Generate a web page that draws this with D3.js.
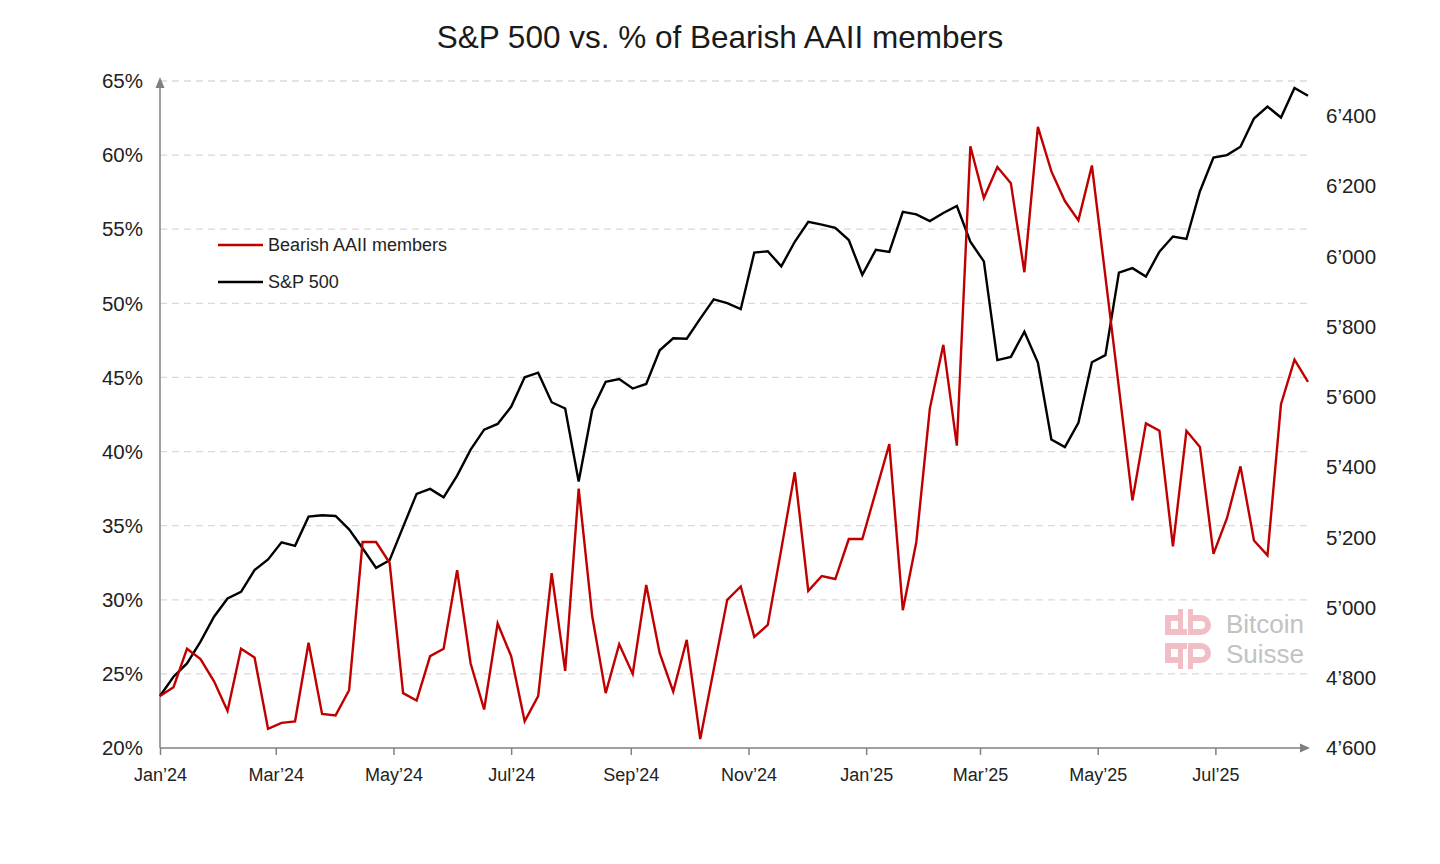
<!DOCTYPE html>
<html>
<head>
<meta charset="utf-8">
<script src="https://cdn.jsdelivr.net/npm/d3@7"></script>
<style>
  body { margin: 0; background: #fff; }
  svg text { font-family: "Liberation Sans", Arial, sans-serif; }
</style>
</head>
<body>
<div id="chart"></div>
<script>
// weekly observations, first one on Jan 1 2024
const startDate = new Date(2024, 0, 1);

const bearish = [
  23.5, 24.1, 26.7, 26.0, 24.5, 22.5, 26.7, 26.1, 21.3, 21.7,
  21.8, 27.1, 22.3, 22.2, 23.9, 33.9, 33.9, 32.5, 23.7, 23.2,
  26.2, 26.7, 32.0, 25.7, 22.6, 28.4, 26.2, 21.8, 23.5, 31.8,
  25.2, 37.5, 28.9, 23.7, 27.0, 25.0, 31.0, 26.4, 23.8, 27.3,
  20.6, 25.3, 30.0, 30.9, 27.5, 28.3, 33.4, 38.6, 30.6, 31.6,
  31.4, 34.1, 34.1, 37.3, 40.5, 29.3, 33.9, 42.9, 47.2, 40.4,
  60.6, 57.1, 59.2, 58.1, 52.1, 61.9, 58.9, 56.9, 55.6, 59.3,
  51.8, 44.3, 36.7, 41.9, 41.4, 33.6, 41.4, 40.3, 33.1, 35.5,
  39.0, 34.0, 33.0, 43.2, 46.2, 44.7
];

const spx = [
  4748, 4803, 4841, 4903, 4974, 5026, 5045, 5107, 5137, 5186,
  5176, 5259, 5263, 5261, 5223, 5169, 5113, 5135, 5230, 5324,
  5338, 5314, 5376, 5450, 5507, 5523, 5572, 5656, 5669, 5585,
  5567, 5359, 5563, 5643, 5651, 5624, 5637, 5733, 5767, 5766,
  5823, 5878, 5867, 5850, 6011, 6015, 5972, 6042, 6099, 6091,
  6082, 6047, 5948, 6019, 6013, 6127, 6120, 6101, 6124, 6144,
  6042, 5986, 5705, 5714, 5786, 5698, 5479, 5457, 5526, 5699,
  5719, 5954, 5967, 5943, 6014, 6057, 6050, 6186, 6282, 6289,
  6313, 6393, 6427, 6396, 6480, 6458
];

const pctTicks = [20, 25, 30, 35, 40, 45, 50, 55, 60, 65];
const spxTicks = [4600, 4800, 5000, 5200, 5400, 5600, 5800, 6000, 6200, 6400];

const seriesNames = ["Bearish AAII members", "S&P 500"];
const seriesColors = ["#c00000", "#000000"];

const dates = bearish.map((d, i) => d3.timeDay.offset(startDate, 7 * i));

const W = 1440, H = 864;
const plotL = 160, plotR = 1308, plotT = 81, plotB = 748;

const svg = d3.select("#chart").append("svg")
  .attr("width", W).attr("height", H);

svg.append("text")
  .attr("x", 720).attr("y", 48)
  .attr("text-anchor", "middle")
  .attr("font-size", 31.5)
  .attr("fill", "#1a1a1a")
  .text("S&P 500 vs. % of Bearish AAII members");

const x = d3.scaleTime()
  .domain([dates[0], dates[dates.length - 1]])
  .range([plotL, plotR]);
const yL = d3.scaleLinear().domain([20, 65]).range([plotB, plotT]);
const yR = d3.scaleLinear().domain([4600, 6500]).range([plotB, plotT]);

// gridlines
svg.append("g").selectAll("line")
  .data(pctTicks.slice(1))
  .enter().append("line")
  .attr("x1", plotL).attr("x2", plotR)
  .attr("y1", d => yL(d)).attr("y2", d => yL(d))
  .attr("stroke", "#d9d9d9")
  .attr("stroke-width", 1.3)
  .attr("stroke-dasharray", "7,5");

// left labels
svg.append("g").selectAll("text")
  .data(pctTicks)
  .enter().append("text")
  .attr("x", 143).attr("y", d => yL(d))
  .attr("dy", "0.35em")
  .attr("text-anchor", "end")
  .attr("font-size", 20.5)
  .attr("fill", "#222")
  .text(d => d + "%");

// right labels
const fmt = d3.formatLocale({decimal: ".", thousands: "\u2019", grouping: [3], currency: ["", ""]}).format(",");
svg.append("g").selectAll("text")
  .data(spxTicks)
  .enter().append("text")
  .attr("x", 1326).attr("y", d => yR(d))
  .attr("dy", "0.35em")
  .attr("font-size", 20.5)
  .attr("fill", "#222")
  .text(d => fmt(d));

// x axis
const monthTicks = d3.timeMonth.every(2).range(new Date(2024, 0, 1), new Date(2025, 7, 2));
const xAxis = svg.append("g")
  .attr("transform", "translate(0," + plotB + ")")
  .call(d3.axisBottom(x)
    .tickValues(monthTicks)
    .tickSize(7)
    .tickFormat(d3.timeFormat("%b\u2019%y")));
xAxis.select(".domain").remove();
xAxis.selectAll(".tick line").attr("stroke", "#808080").attr("stroke-width", 1.5);
xAxis.selectAll(".tick text")
  .attr("font-size", 18)
  .attr("font-family", "Liberation Sans, Arial, sans-serif")
  .attr("fill", "#222")
  .attr("dy", "1.3em");

// axis lines with arrows
const axisColor = "#808080";
svg.append("line")
  .attr("x1", plotL).attr("x2", plotR - 6)
  .attr("y1", plotB).attr("y2", plotB)
  .attr("stroke", axisColor).attr("stroke-width", 1.5);
svg.append("path")
  .attr("d", `M${plotR + 2},${plotB} L${plotR - 8},${plotB - 4.5} L${plotR - 8},${plotB + 4.5} Z`)
  .attr("fill", axisColor);
svg.append("line")
  .attr("x1", plotL).attr("x2", plotL)
  .attr("y1", plotB).attr("y2", plotT + 6)
  .attr("stroke", axisColor).attr("stroke-width", 1.5);
svg.append("path")
  .attr("d", `M${plotL},${plotT - 4} L${plotL - 4.5},${plotT + 7} L${plotL + 4.5},${plotT + 7} Z`)
  .attr("fill", axisColor);

// watermark
const wm = svg.append("g").attr("opacity", 0.85);
const pink = "#f0b3bb";
// top glyph
wm.append("rect").attr("x", 1165).attr("y", 615).attr("width", 18).attr("height", 6).attr("fill", pink);
wm.append("rect").attr("x", 1165).attr("y", 615).attr("width", 6).attr("height", 20).attr("fill", pink);
wm.append("rect").attr("x", 1165).attr("y", 629).attr("width", 22).attr("height", 6).attr("fill", pink);
wm.append("rect").attr("x", 1178).attr("y", 609).attr("width", 5).attr("height", 26).attr("fill", pink);
wm.append("path").attr("d", "M1188,609 h5 v6 h8 a10,10 0 0 1 0,20 h-13 Z M1193,621 v8 h8 a4,4 0 0 0 0,-8 Z")
  .attr("fill", pink).attr("fill-rule", "evenodd");
// bottom glyph
wm.append("rect").attr("x", 1165).attr("y", 643).attr("width", 22).attr("height", 6).attr("fill", pink);
wm.append("rect").attr("x", 1165).attr("y", 643).attr("width", 6).attr("height", 20).attr("fill", pink);
wm.append("rect").attr("x", 1165).attr("y", 657).attr("width", 18).attr("height", 6).attr("fill", pink);
wm.append("rect").attr("x", 1178).attr("y", 643).attr("width", 5).attr("height", 26).attr("fill", pink);
wm.append("path").attr("d", "M1188,643 h13 a10,10 0 0 1 0,20 h-8 v6 h-5 Z M1193,649 v8 h8 a4,4 0 0 0 0,-8 Z")
  .attr("fill", pink).attr("fill-rule", "evenodd");
wm.append("text").attr("x", 1226).attr("y", 633).attr("font-size", 26).attr("fill", "#b8b8b8").text("Bitcoin");
wm.append("text").attr("x", 1226).attr("y", 663).attr("font-size", 26).attr("fill", "#b8b8b8").text("Suisse");

// lines
const lineL = d3.line().x((d, i) => x(dates[i])).y(d => yL(d));
const lineR = d3.line().x((d, i) => x(dates[i])).y(d => yR(d));

svg.append("path")
  .datum(spx)
  .attr("d", lineR)
  .attr("fill", "none")
  .attr("stroke", seriesColors[1])
  .attr("stroke-width", 2.4)
  .attr("stroke-linejoin", "miter");

svg.append("path")
  .datum(bearish)
  .attr("d", lineL)
  .attr("fill", "none")
  .attr("stroke", seriesColors[0])
  .attr("stroke-width", 2.4)
  .attr("stroke-linejoin", "miter");

// legend
const legend = svg.append("g").selectAll("g")
  .data(seriesNames)
  .enter().append("g")
  .attr("transform", (d, i) => "translate(218," + (245 + i * 37) + ")");
legend.append("line")
  .attr("x1", 0).attr("x2", 45)
  .attr("stroke", (d, i) => seriesColors[i])
  .attr("stroke-width", 2.4);
legend.append("text")
  .attr("x", 50).attr("dy", "0.35em")
  .attr("font-size", 18)
  .attr("fill", "#222")
  .text(d => d);
</script>
</body>
</html>
